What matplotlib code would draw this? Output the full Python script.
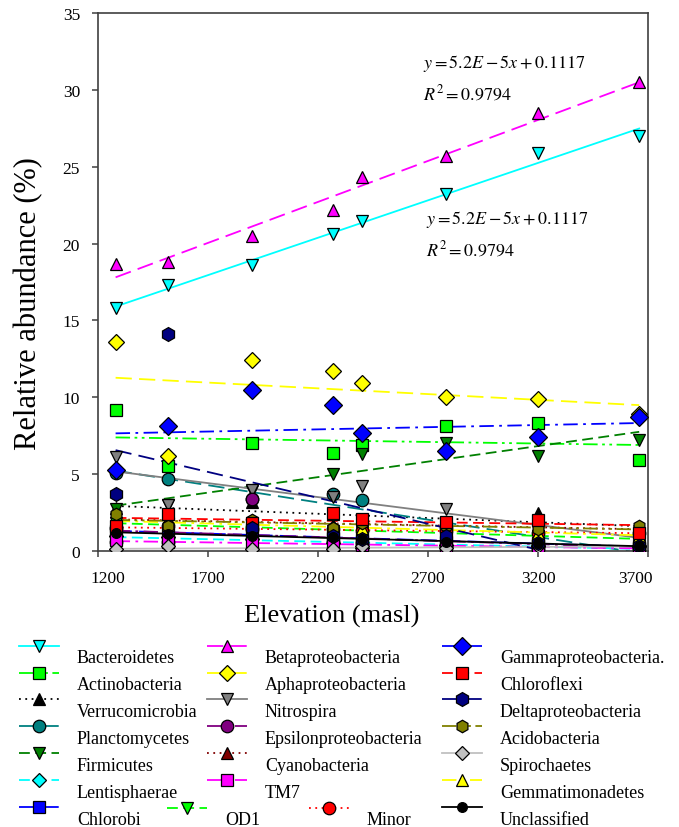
import numpy as np
import matplotlib
matplotlib.use('Agg')
import matplotlib.pyplot as plt
from matplotlib.transforms import ScaledTranslation
from matplotlib.legend_handler import HandlerLine2D

plt.rcParams['font.family'] = ['Liberation Serif', 'DejaVu Serif']
plt.rcParams['mathtext.fontset'] = 'stix'

# elevation of the sampling sites (masl)
elev = [1280, 1520, 1900, 2270, 2400, 2780, 3200, 3660]

bacteroidetes = [15.8, 17.3, 18.6, 20.6, 21.5, 23.2, 25.9, 27.0]
betaproteo = [18.7, 18.8, 20.5, 22.2, 24.3, 25.7, 28.5, 30.5]
aphaproteo = [13.6, 6.2, 12.4, 11.7, 10.9, 10.0, 9.9, 8.9]
gammaproteo = [5.3, 8.1, 10.5, 9.5, 7.7, 6.5, 7.4, 8.7]
actinobacteria = [9.2, 5.5, 7.0, 6.4, 6.9, 8.1, 8.3, 5.9]
firmicutes = [2.7, 3.0, 3.9, 5.0, 6.3, 7.0, 6.2, 7.2]
nitrospira = [6.1, 3.0, 4.0, 3.5, 4.2, 2.7, 1.5, 0.5]
planctomycetes = [5.1, 4.7, 3.4, 3.7, 3.3, 1.5, 0.1, 0.3]
deltaproteo = [3.7, 14.1, 1.5, 1.0, 0.8, 1.0, 0.5, 0.3]
verrucomicrobia = [2.8, 2.6, 3.2, 2.4, 2.0, 1.8, 2.5, 1.3]
chloroflexi = [1.6, 2.4, 1.8, 2.5, 2.1, 1.9, 2.0, 1.2]
acidobacteria = [2.4, 1.6, 2.0, 1.5, 1.8, 1.6, 1.4, 1.6]
epsilonproteo = [0.6, 0.6, 3.4, 0.6, 0.5, 0.3, 0.4, 0.2]
cyanobacteria = [2.1, 2.0, 1.9, 1.7, 1.8, 1.6, 1.5, 1.5]
tm7 = [0.7, 0.6, 0.5, 0.4, 0.4, 0.3, 0.3, 0.2]
lentisphaerae = [1.0, 0.9, 0.8, 0.5, 0.2, 0.4, 0.3, 0.3]
chlorobi = [1.3, 1.2, 1.1, 0.9, 0.8, 0.6, 0.5, 0.3]
od1 = [1.8, 1.9, 1.5, 1.3, 1.2, 1.1, 1.0, 0.9]
minor = [1.5, 1.6, 1.4, 1.4, 1.3, 1.3, 1.2, 1.2]
gemmatimonadetes = [1.9, 1.7, 2.0, 1.6, 1.5, 1.3, 1.2, 1.0]
spirochaetes = [0.1, 0.3, 0.1, 0.1, 0.3, 0.2, 0.3, 0.3]
unclassified = [1.2, 1.1, 1.0, 0.9, 0.8, 0.6, 0.5, 0.3]

xticks = [1200, 1700, 2200, 2700, 3200, 3700]
yticks = [0, 5, 10, 15, 20, 25, 30, 35]

dash = (0, (6, 3))
longdash = (0, (9, 4))
dashdot = (0, (8, 3, 1.5, 3))
dashdotdot = (0, (8, 2.5, 1.5, 2.5, 1.5, 2.5))
dot = (0, (1, 2.5))

# name, values, colour, marker, marker size, line style
series = [
    ('Bacteroidetes', bacteroidetes, '#00FFFF', 'v', 9, '-'),
    ('Actinobacteria', actinobacteria, '#00FF00', 's', 8, dashdotdot),
    ('Verrucomicrobia', verrucomicrobia, '#000000', '^', 9, dot),
    ('Planctomycetes', planctomycetes, '#008080', 'o', 9, longdash),
    ('Firmicutes', firmicutes, '#008000', 'v', 9, dash),
    ('Lentisphaerae', lentisphaerae, '#00FFFF', 'D', 7, dash),
    ('Chlorobi', chlorobi, '#0000FF', 's', 8, longdash),
    ('Betaproteobacteria', betaproteo, '#FF00FF', '^', 9, longdash),
    ('Aphaproteobacteria', aphaproteo, '#FFFF00', 'D', 8, longdash),
    ('Nitrospira', nitrospira, '#808080', 'v', 9, '-'),
    ('Epsilonproteobacteria', epsilonproteo, '#800080', 'o', 9, dashdot),
    ('Cyanobacteria', cyanobacteria, '#800000', '^', 9, dot),
    ('TM7', tm7, '#FF00FF', 's', 8, dashdot),
    ('OD1', od1, '#00FF00', 'v', 9, dash),
    ('Minor', minor, '#FF0000', 'o', 9, dot),
    ('Gemmatimonadetes', gemmatimonadetes, '#FFFF00', '^', 9, dashdot),
    ('Spirochaetes', spirochaetes, '#C0C0C0', 'D', 7, '-'),
    ('Acidobacteria', acidobacteria, '#808000', 'h', 9, dashdotdot),
    ('Chloroflexi', chloroflexi, '#FF0000', 's', 8, dash),
    ('Deltaproteobacteria', deltaproteo, '#000080', 'h', 10, longdash),
    ('Gammaproteobacteria.', gammaproteo, '#0000FF', 'D', 9, dashdot),
    ('Unclassified', unclassified, '#000000', 'o', 7, '-'),
]


class MarkerAbove(HandlerLine2D):
    # legend key with the marker sitting above the line, as in the original
    def create_artists(self, legend, orig_handle, xdescent, ydescent,
                       width, height, fontsize, trans):
        arts = super().create_artists(legend, orig_handle, xdescent, ydescent,
                                      width, height, fontsize, trans)
        mk = arts[-1]
        mk.set_ydata(np.asarray(mk.get_ydata()) + 0.8 * height)
        return arts


fig = plt.figure(figsize=(6.79, 8.28), dpi=100)
ax = fig.add_axes([98 / 679, 1 - 552 / 828, 550 / 679, 538 / 828])

x = np.array(elev, dtype=float)
xs = np.array([x[0], x[-1]])
handles = {}
for name, vals, col, mk, ms, ls in series:
    k, b = np.polyfit(x, vals, 1)
    ax.plot(xs, k * xs + b, color=col, ls=ls, lw=1.3, zorder=2)
    ax.plot(x, vals, ls='none', marker=mk, ms=ms, mfc=col, mec='black',
            mew=0.9, zorder=3)
    handles[name] = plt.Line2D([], [], color=col, ls=ls, lw=1.3, marker=mk,
                               ms=ms, mfc=col, mec='black', mew=0.9)

ax.set_xlim(1200, 3700)
ax.set_ylim(0, 35)
ax.set_xticks(xticks)
ax.set_yticks(yticks)
ax.tick_params(direction='out', length=4, width=1.1, color='#404040',
               labelsize=12.5)
ax.tick_params(axis='x', pad=10)
ax.tick_params(axis='y', pad=9)
for sp in ax.spines.values():
    sp.set_color('#404040')
    sp.set_linewidth(1.2)

xl = ax.get_xticklabels()
xl[0].set_transform(xl[0].get_transform() + ScaledTranslation(10 / 100, 0, fig.dpi_scale_trans))
xl[-1].set_transform(xl[-1].get_transform() + ScaledTranslation(-13 / 100, 0, fig.dpi_scale_trans))

ax.set_xlabel('Elevation (masl)', fontsize=19)
ax.xaxis.set_label_coords(0.425, -0.098)
ax.set_ylabel('Relative abundance (%)', fontsize=22)
ax.yaxis.set_label_coords(-0.1, 0.462)

eq = r'$y = 5.2E - 5x + 0.1117$'
r2 = r'$R^2 = 0.9794$'
ax.text(2677, 31.8, eq, fontsize=13, va='center')
ax.text(2677, 29.8, r2, fontsize=13, va='center')
ax.text(2690, 21.6, eq, fontsize=13, va='center')
ax.text(2690, 19.65, r2, fontsize=13, va='center')

col1 = ['Bacteroidetes', 'Actinobacteria', 'Verrucomicrobia', 'Planctomycetes',
        'Firmicutes', 'Lentisphaerae', 'Chlorobi']
col2 = ['Betaproteobacteria', 'Aphaproteobacteria', 'Nitrospira',
        'Epsilonproteobacteria', 'Cyanobacteria', 'TM7']
col3 = ['Gammaproteobacteria.', 'Chloroflexi', 'Deltaproteobacteria',
        'Acidobacteria', 'Spirochaetes', 'Gemmatimonadetes', 'Unclassified']

top = 1 - 650 / 828
row = 27.4 / 828
last = top - 6 * row + 2 / 828
kw = dict(frameon=False, loc='upper left', fontsize=13, handlelength=2.2,
          handletextpad=1.0, labelspacing=0.55, borderpad=0, numpoints=1,
          borderaxespad=0, handler_map={plt.Line2D: MarkerAbove()})
for names, x0, y0 in [(col1, 19, top), (col2, 207, top), (col3, 442, top),
                      (['OD1'], 167, last), (['Minor'], 309, last)]:
    fig.legend([handles[n] for n in names], names,
               bbox_to_anchor=(x0 / 679, y0), **kw)

fig.savefig('out.png', dpi=100)
